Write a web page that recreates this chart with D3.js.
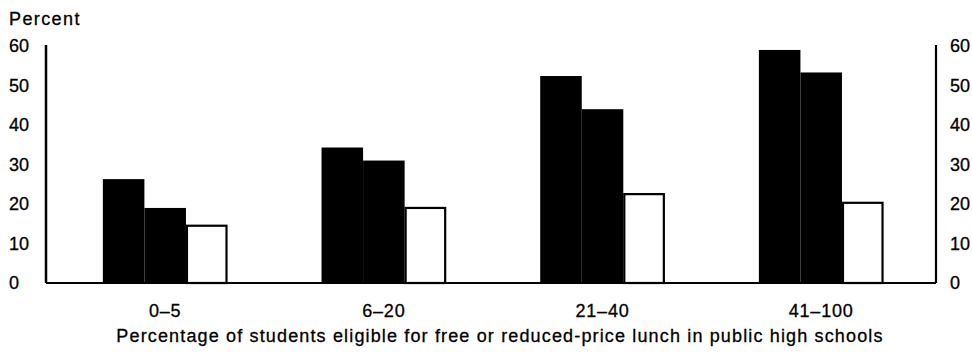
<!DOCTYPE html>
<html>
<head>
<meta charset="utf-8">
<script src="https://cdn.jsdelivr.net/npm/d3@7"></script>
<style>
  html, body { margin: 0; padding: 0; background: #fff; }
  svg { display: block; }
  text { font-family: "Liberation Sans", Arial, sans-serif; fill: #000; stroke: #000; stroke-width: 0.3px; }
</style>
</head>
<body>
<svg id="chart" width="972" height="354"></svg>
<script>
const categories = ["0\u20135", "6\u201320", "21\u201340", "41\u2013100"];
const seriesKeys = ["s1", "s2", "s3"];
const series1 = [26.3, 34.3, 52.4, 59.0];
const series2 = [19.0, 31.0, 44.0, 53.3];
const series3 = [14.5, 19.0, 22.5, 20.3];
const yTicks = [0, 10, 20, 30, 40, 50, 60];
const yLabel = "Percent";
const xTitle = "Percentage of students eligible for free or reduced-price lunch in public high schools";

const seriesValues = [series1, series2, series3];
const fills = ["#000", "#000", "#fff"];

const svg = d3.select("#chart");
const mLeft = 46, mRight = 936, mTop = 45, mBottom = 283;

const x = d3.scaleBand().domain(categories).range([mLeft, mRight])
  .paddingInner(0.43).paddingOuter(0.25).align(0.52);
const xs = d3.scaleBand().domain(seriesKeys).range([0, x.bandwidth()]).padding(0);
const y = d3.scaleLinear().domain([0, 60]).range([mBottom, 46]);

// bars
seriesKeys.forEach((k, si) => {
  svg.append("g").selectAll("rect")
    .data(categories.map((c, i) => ({ c, v: seriesValues[si][i] })))
    .join("rect")
    .attr("x", d => x(d.c) + xs(k) + (si === 2 ? 1 : 0))
    .attr("y", d => y(d.v))
    .attr("width", xs.bandwidth() - (si === 2 ? 2 : 0))
    .attr("height", d => y(0) - y(d.v))
    .attr("fill", fills[si])
    .attr("stroke", si === 2 ? "#000" : "none")
    .attr("stroke-width", 2.2);
});

// axes lines
const axisL = d3.axisLeft(y).tickValues(yTicks).tickSize(0).tickFormat("");
svg.append("g").attr("transform", `translate(${mLeft},0)`).call(axisL)
  .call(g => g.select(".domain").attr("stroke-width", 2.5).attr("d", `M0,${mTop}V${mBottom}`));
const axisR = d3.axisRight(y).tickValues(yTicks).tickSize(0).tickFormat("");
svg.append("g").attr("transform", `translate(${mRight},0)`).call(axisR)
  .call(g => g.select(".domain").attr("stroke-width", 2.2).attr("d", `M0,${mTop}V${mBottom}`));
svg.append("line").attr("x1", mLeft).attr("x2", mRight)
  .attr("y1", y(0)).attr("y2", y(0)).attr("stroke", "#000").attr("stroke-width", 2.2);

// tick labels
svg.append("g").selectAll("text").data(yTicks).join("text")
  .attr("x", 9).attr("y", d => y(d)).attr("dy", "0.36em")
  .attr("font-size", 18).text(d => d);
svg.append("g").selectAll("text").data(yTicks).join("text")
  .attr("x", 950).attr("y", d => y(d)).attr("dy", "0.36em")
  .attr("font-size", 18).text(d => d);

svg.append("text").attr("x", 9).attr("y", 25).attr("font-size", 18)
  .attr("letter-spacing", 1.4).text(yLabel);

// category labels
svg.append("g").selectAll("text").data(categories).join("text")
  .attr("x", d => x(d) + x.bandwidth() / 2).attr("y", 317)
  .attr("text-anchor", "middle").attr("font-size", 18)
  .attr("letter-spacing", 0.8).text(d => d);

svg.append("text").attr("x", 500).attr("y", 342).attr("text-anchor", "middle")
  .attr("font-size", 18).attr("letter-spacing", 1.15).text(xTitle);
</script>
</body>
</html>
